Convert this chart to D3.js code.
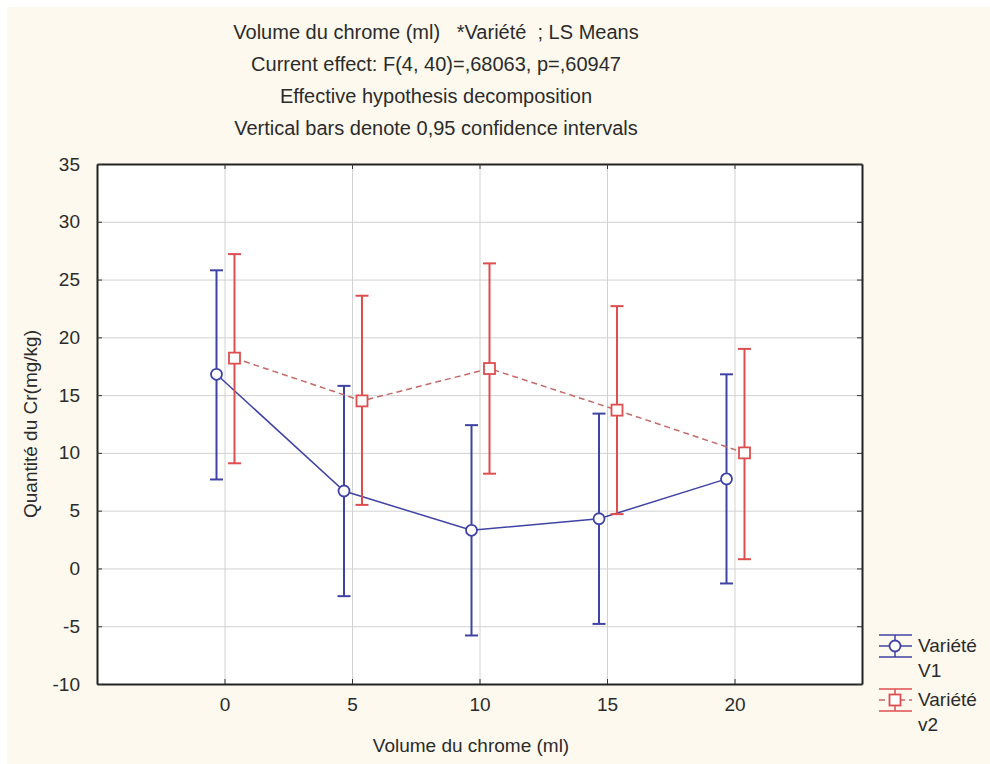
<!DOCTYPE html>
<html>
<head>
<meta charset="utf-8">
<script src="https://cdn.jsdelivr.net/npm/d3@7"></script>
<style>
  body { margin: 0; background: #ffffff; }
  text { font-family: "Liberation Sans", Arial, sans-serif; fill: #2b2b2b; white-space: pre; }
</style>
</head>
<body>
<svg id="chart"></svg>
<script>
// data
const volumes = [0, 5, 10, 15, 20];
const v1Means = [16.8, 6.7, 3.3, 4.3, 7.75];
const v1Lower = [7.7, -2.4, -5.8, -4.8, -1.3];
const v1Upper = [25.8, 15.8, 12.4, 13.4, 16.8];
const v2Means = [18.2, 14.5, 17.3, 13.7, 10.0];
const v2Lower = [9.1, 5.5, 8.2, 4.7, 0.8];
const v2Upper = [27.2, 23.6, 26.4, 22.7, 19.0];
const xTicks = [0, 5, 10, 15, 20];
const yTicks = [-10, -5, 0, 5, 10, 15, 20, 25, 30, 35];
const titleLines = [
    "Volume du chrome (ml)   *Variété  ; LS Means",
    "Current effect: F(4, 40)=,68063, p=,60947",
    "Effective hypothesis decomposition",
    "Vertical bars denote 0,95 confidence intervals"
];
const seriesNames = [["Variété", "V1"], ["Variété", "v2"]];

class MeansPlot {

    constructor( config, series ) {
        this.config = {
            parent: config.parent,
            width: config.width || 990,
            height: config.height || 764,
            margin: config.margin || {top:164, right:128, bottom:80, left:97},
            font_size: config.font_size || '19px',
        }
        this.series = series;
        this.init();
    }

    init() {
        let self = this;

        self.svg = d3.select( self.config.parent )
            .attr('width', self.config.width)
            .attr('height', self.config.height);

        // cream page background
        self.svg.append('rect')
            .attr('x', 7).attr('y', 7)
            .attr('width', self.config.width - 7)
            .attr('height', self.config.height - 7)
            .attr('fill', '#fdf9ee');

        self.chart = self.svg.append('g')
            .attr('transform', `translate(${self.config.margin.left}, ${self.config.margin.top})`);

        self.inner_width = self.config.width - self.config.margin.left - self.config.margin.right;
        self.inner_height = self.config.height - self.config.margin.top - self.config.margin.bottom;

        self.xscale = d3.scaleLinear()
            .domain( [-5, 25] )
            .range( [0, self.inner_width] );

        self.yscale = d3.scaleLinear()
            .domain( [-10, 35] )
            .range( [self.inner_height, 0] );

        self.render();
    }

    render() {
        let self = this;
        const w = self.inner_width, h = self.inner_height;
        const fs = self.config.font_size;

        self.chart.append('rect')
            .attr('width', w).attr('height', h)
            .attr('fill', '#ffffff');

        // grid
        self.chart.append('g')
            .attr('transform', `translate(0, ${h})`)
            .call( d3.axisBottom(self.xscale).tickValues(xTicks).tickSize(-h).tickFormat('') )
            .call( g => g.select('.domain').remove() )
            .selectAll('line').attr('stroke', '#d2d2d2');
        self.chart.append('g')
            .call( d3.axisLeft(self.yscale).tickValues(yTicks).tickSize(-w).tickFormat('') )
            .call( g => g.select('.domain').remove() )
            .selectAll('line').attr('stroke', '#d2d2d2');

        // axes with inward ticks on all four sides
        const xb = self.chart.append('g')
            .attr('transform', `translate(0, ${h})`)
            .call( d3.axisBottom(self.xscale).tickValues(xTicks).tickFormat(d => String(d))
                .tickSizeInner(-5).tickSizeOuter(0).tickPadding(14) );
        const xt = self.chart.append('g')
            .call( d3.axisTop(self.xscale).tickValues(xTicks).tickSizeInner(-5).tickSizeOuter(0).tickFormat('') );
        const yl = self.chart.append('g')
            .call( d3.axisLeft(self.yscale).tickValues(yTicks).tickFormat(d => String(d))
                .tickSizeInner(-5).tickSizeOuter(0).tickPadding(17) );
        const yr = self.chart.append('g')
            .attr('transform', `translate(${w}, 0)`)
            .call( d3.axisRight(self.yscale).tickValues(yTicks).tickSizeInner(-5).tickSizeOuter(0).tickFormat('') );
        [xb, xt, yl, yr].forEach( g => {
            g.select('.domain').attr('stroke', '#222').attr('stroke-width', 2);
            g.selectAll('.tick line').attr('stroke', '#333');
            g.selectAll('.tick text')
                .attr('font-size', fs)
                .attr('fill', '#333')
                .attr('font-family', '"Liberation Sans", Arial, sans-serif');
        });

        // series
        self.series.forEach( s => {
            const pts = volumes.map( (v, i) => ({
                x: self.xscale(v) + s.dx,
                m: self.yscale(s.means[i]),
                lo: self.yscale(s.lower[i]),
                hi: self.yscale(s.upper[i])
            }));
            const g = self.chart.append('g');

            g.append('path')
                .datum(pts)
                .attr('fill', 'none')
                .attr('stroke', s.lineColor)
                .attr('stroke-width', 1.5)
                .attr('stroke-dasharray', s.dash)
                .attr('d', d3.line().x(d => d.x).y(d => d.m));

            const bars = g.selectAll('.bar').data(pts).enter().append('g');
            bars.append('line')
                .attr('x1', d => d.x).attr('x2', d => d.x)
                .attr('y1', d => d.lo).attr('y2', d => d.hi)
                .attr('stroke', s.color).attr('stroke-width', 2);
            ['lo', 'hi'].forEach( k => {
                bars.append('line')
                    .attr('x1', d => d.x - 6.5).attr('x2', d => d.x + 6.5)
                    .attr('y1', d => d[k]).attr('y2', d => d[k])
                    .attr('stroke', s.color).attr('stroke-width', 2);
            });
            self.marker( bars, s, d => d.x, d => d.m );
        });

        // title
        self.svg.append('g').selectAll('text')
            .data(titleLines)
            .enter()
            .append('text')
            .attr('x', 436)
            .attr('y', (d, i) => 39 + i * 32)
            .attr('text-anchor', 'middle')
            .attr('font-size', '20px')
            .text(d => d);

        // axis titles
        self.svg.append('text')
            .attr('x', 471)
            .attr('y', 752)
            .attr('text-anchor', 'middle')
            .attr('font-size', fs)
            .text('Volume du chrome (ml)');
        self.svg.append('text')
            .attr('transform', `translate(37, ${self.config.margin.top + h / 2}) rotate(-90)`)
            .attr('text-anchor', 'middle')
            .attr('font-size', fs)
            .text('Quantité du Cr(mg/kg)');

        // legend
        const legend = self.svg.append('g').attr('transform', 'translate(879, 635)');
        self.series.forEach( (s, i) => {
            const item = legend.append('g').attr('transform', `translate(0, ${i * 54})`);
            const cx = 16, cy = 11;
            [cy - 11, cy + 11].forEach( y => {
                item.append('line')
                    .attr('x1', 0).attr('x2', 33).attr('y1', y).attr('y2', y)
                    .attr('stroke', s.color).attr('stroke-width', 1.5);
            });
            item.append('line')
                .attr('x1', cx).attr('x2', cx).attr('y1', cy - 11).attr('y2', cy + 11)
                .attr('stroke', s.color).attr('stroke-width', 1.5);
            item.append('line')
                .attr('x1', 0).attr('x2', 33).attr('y1', cy).attr('y2', cy)
                .attr('stroke', s.lineColor).attr('stroke-width', 1.5)
                .attr('stroke-dasharray', s.dash);
            self.marker( item.append('g'), s, () => cx, () => cy );
            item.selectAll('text.lbl')
                .data(seriesNames[i])
                .enter()
                .append('text')
                .attr('x', 39)
                .attr('y', (d, j) => 17 + j * 25)
                .attr('font-size', fs)
                .text(d => d);
        });
    }

    marker( sel, s, fx, fy ) {
        if (s.shape === 'circle') {
            sel.append('circle')
                .attr('cx', fx).attr('cy', fy).attr('r', 5.5)
                .attr('fill', '#ffffff')
                .attr('stroke', s.color).attr('stroke-width', 1.8);
        } else {
            sel.append('rect')
                .attr('x', d => fx(d) - 5.5).attr('y', d => fy(d) - 5.5)
                .attr('width', 11).attr('height', 11)
                .attr('fill', '#ffffff')
                .attr('stroke', s.color).attr('stroke-width', 1.8);
        }
    }
}

new MeansPlot( { parent: '#chart' }, [
    { means: v1Means, lower: v1Lower, upper: v1Upper, dx: -8,
      color: '#3f43a3', lineColor: '#3f43a3', dash: null, shape: 'circle' },
    { means: v2Means, lower: v2Lower, upper: v2Upper, dx: 10,
      color: '#de4d50', lineColor: '#c46a68', dash: '6,4', shape: 'square' }
] );
</script>
</body>
</html>
